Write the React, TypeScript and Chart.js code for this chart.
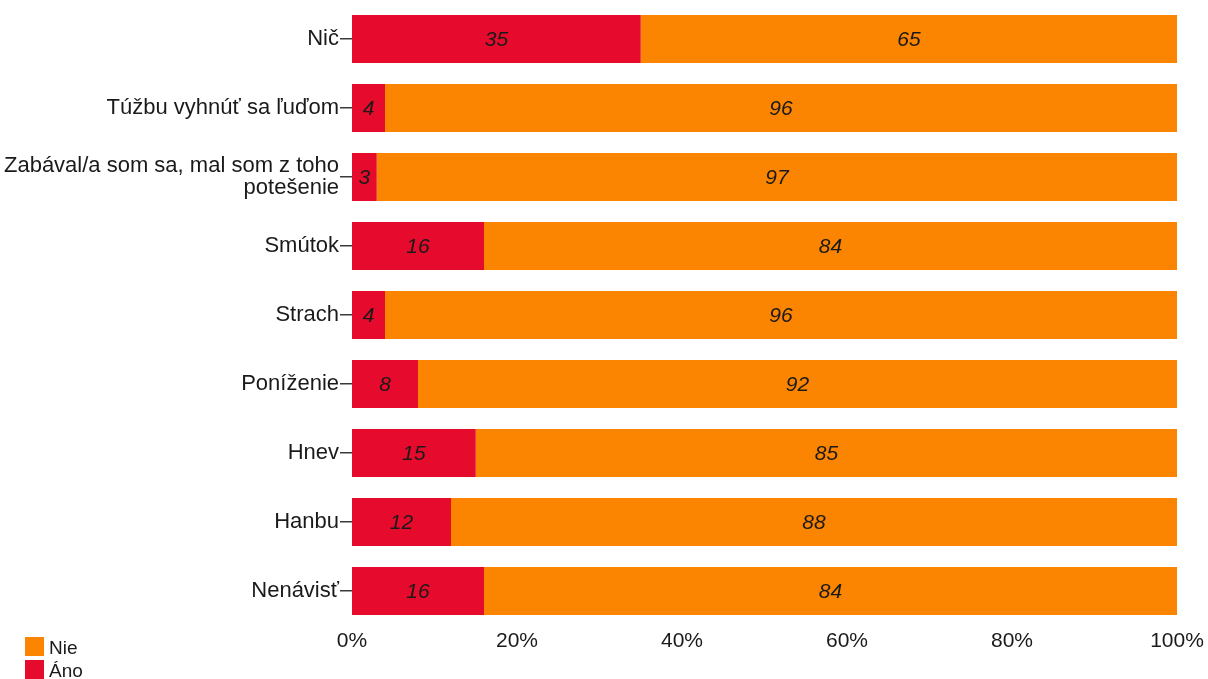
import React, { useEffect, useRef } from "react";
import { Chart, registerables } from "chart.js";

Chart.register(...registerables);

const categories: (string | string[])[] = [
  "Nič",
  "Túžbu vyhnúť sa ľuďom",
  ["Zabával/a som sa, mal som z toho", "potešenie"],
  "Smútok",
  "Strach",
  "Poníženie",
  "Hnev",
  "Hanbu",
  "Nenávisť",
];
const anoValues = [35, 4, 3, 16, 4, 8, 15, 12, 16];
const nieValues = [65, 96, 97, 84, 96, 92, 85, 88, 84];
const seriesNames = ["Áno", "Nie"];
const seriesColors = ["#E60B2C", "#FB8500"];
const legendOrder = [1, 0];
const xMin = 0;
const xMax = 100;
const xStep = 20;

const FONT = "'Liberation Sans', Arial, sans-serif";

const dataLabelPlugin = {
  id: "dataLabels",
  afterDatasetsDraw(chart: any) {
    const ctx = chart.ctx;
    ctx.save();
    ctx.font = `italic 21px ${FONT}`;
    ctx.fillStyle = "#1a1a1a";
    ctx.textAlign = "center";
    ctx.textBaseline = "middle";
    chart.data.datasets.forEach((ds: any, di: number) => {
      const meta = chart.getDatasetMeta(di);
      meta.data.forEach((el: any, i: number) => {
        const cx = (el.x + el.base) / 2;
        ctx.fillText(String(ds.data[i]), cx, el.y + 1);
      });
    });
    ctx.restore();
  },
};

const legendPlugin = {
  id: "customLegend",
  afterDraw(chart: any) {
    const ctx = chart.ctx;
    ctx.save();
    ctx.font = `19px ${FONT}`;
    ctx.textAlign = "left";
    ctx.textBaseline = "alphabetic";
    legendOrder.forEach((si, row) => {
      const y = 637 + row * 23;
      ctx.fillStyle = seriesColors[si];
      ctx.fillRect(25, y, 19, 19);
      ctx.fillStyle = "#1a1a1a";
      ctx.fillText(seriesNames[si], 49, y + 17);
    });
    ctx.restore();
  },
};

export default function App() {
  const ref = useRef<HTMLCanvasElement | null>(null);
  useEffect(() => {
    if (!ref.current) return;
    const chart = new Chart(ref.current, {
      type: "bar",
      data: {
        labels: categories as any,
        datasets: [
          {
            label: seriesNames[0],
            data: anoValues,
            backgroundColor: seriesColors[0],
            borderWidth: 0,
            barPercentage: 0.696,
            categoryPercentage: 1,
          },
          {
            label: seriesNames[1],
            data: nieValues,
            backgroundColor: seriesColors[1],
            borderWidth: 0,
            barPercentage: 0.696,
            categoryPercentage: 1,
          },
        ],
      },
      options: {
        indexAxis: "y",
        responsive: false,
        animation: false,
        devicePixelRatio: 1,
        layout: { padding: { top: 4.5, right: 31, left: 0, bottom: 0 } },
        plugins: {
          legend: { display: false },
          tooltip: { enabled: false },
        },
        scales: {
          x: {
            type: "linear",
            stacked: true,
            min: xMin,
            max: xMax,
            grid: { display: false, drawTicks: false },
            border: { display: false },
            ticks: {
              stepSize: xStep,
              padding: 3,
              color: "#1a1a1a",
              font: { family: FONT, size: 21 },
              maxRotation: 0,
              callback: (v: any) => `${v}%`,
            },
            afterFit: (s: any) => {
              s.height = 53.5;
              s.paddingLeft = 0;
              s.paddingRight = 0;
            },
          },
          y: {
            type: "category",
            stacked: true,
            grid: {
              display: true,
              drawOnChartArea: false,
              offset: false,
              tickLength: 12,
              color: "#3a3a3a",
              lineWidth: 1.5,
            },
            border: { display: false },
            ticks: {
              padding: 1,
              color: "#1a1a1a",
              font: { family: FONT, size: 22, lineHeight: 0.97 },
              autoSkip: false,
            },
            afterFit: (s: any) => {
              s.width = 352;
              s.paddingTop = 0;
              s.paddingBottom = 0;
            },
          },
        },
      } as any,
      plugins: [dataLabelPlugin, legendPlugin],
    });
    return () => chart.destroy();
  }, []);
  return (
    <div style={{ position: "absolute", left: 0, top: 0, width: 1208, height: 679, background: "#fff" }}>
      <canvas ref={ref} width={1208} height={679} style={{ display: "block" }} />
    </div>
  );
}
